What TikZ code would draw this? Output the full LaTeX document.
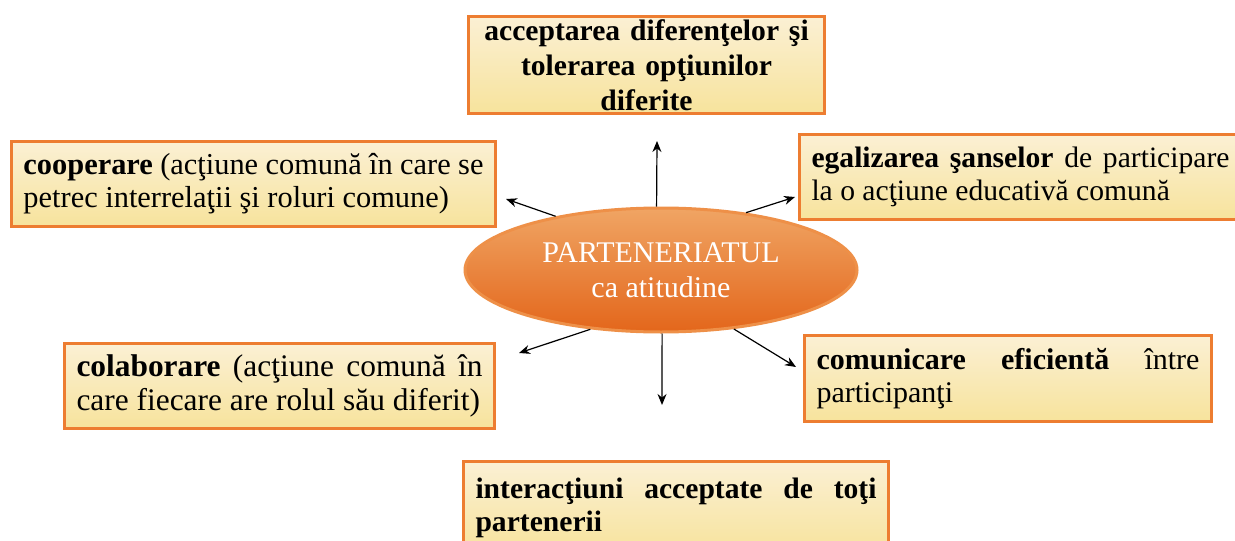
\documentclass[tikz,border=0pt]{standalone}
\usepackage{fontspec}
\setmainfont{Liberation Serif}
\usetikzlibrary{shapes.geometric, arrows.meta, positioning}

\definecolor{boxedge}{HTML}{ED7D31}
\definecolor{boxtop}{HTML}{FBF0D4}
\definecolor{boxbot}{HTML}{F7E39C}
\definecolor{elltop}{HTML}{F0A564}
\definecolor{ellbot}{HTML}{E3661B}
\definecolor{elledge}{HTML}{EE9048}

\begin{document}
\begin{tikzpicture}[x=0.5pt,y=-0.5pt,>={Stealth[length=5.5pt,width=4.5pt]},
    idea/.style={draw=boxedge,line width=1.5pt,top color=boxtop,bottom color=boxbot,
        anchor=north west,inner xsep=6pt,inner ysep=1pt,align=justify,
        font=\fontsize{15}{16.5}\selectfont},
    core/.style={ellipse,draw=elledge,line width=1.5pt,top color=elltop,bottom color=ellbot,
        minimum width=196pt,minimum height=62pt,inner sep=0pt,text=white,align=center,
        font=\fontsize{15}{17.5}\selectfont}]
        % tikz code goes here
        \clip (0,0) rectangle (1235,540);
        \node[core](part) at (661,270) {PARTENERIATUL\\ca atitudine};

        \node[idea,align=center,text width=166pt,minimum height=48.5pt,font=\fontsize{14.8}{17.5}\selectfont](accept) at (467,15)
            {\textbf{acceptarea diferenţelor şi\\tolerarea opţiunilor\\diferite}};
        \node[idea,text width=230pt,minimum height=42.5pt,font=\fontsize{15.2}{16.5}\selectfont](coop) at (10,140)
            {\textbf{cooperare} (acţiune comună în care se\linebreak petrec interrelaţii şi roluri comune)};
        \node[idea,text width=209pt,minimum height=42.5pt,font=\fontsize{14.8}{16.5}\selectfont](egal) at (798,133)
            {\textbf{egalizarea şanselor} de participare\linebreak la o acţiune educativă comună};
        \node[idea,text width=203pt,minimum height=42.5pt,font=\fontsize{15.7}{16.8}\selectfont](colab) at (63,342)
            {\textbf{colaborare} (acţiune comună în\linebreak care fiecare are rolul său diferit)};
        \node[idea,text width=191.5pt,minimum height=43pt](comun) at (803,334)
            {\textbf{comunicare eficientă} între\linebreak participanţi};
        \node[idea,text width=200.5pt,minimum height=46pt,font=\fontsize{14.8}{16.5}\selectfont](inter) at (462,460)
            {\textbf{interacţiuni acceptate de toţi\linebreak partenerii}};

        \coordinate (t_accept) at (657,141);
        \coordinate (t_coop) at (506,199);
        \coordinate (t_egal) at (795,197);
        \coordinate (t_colab) at (519,353);
        \coordinate (t_comun) at (796,367);
        \coordinate (t_inter) at (662,405);

        \path[->,line width=0.6pt]
            (part.94)  edge (t_accept)
            (part.153) edge (t_coop)
            (part.34)  edge (t_egal)
            (part.220) edge (t_colab)
            (part.321) edge (t_comun)
            (part.271) edge (t_inter);
\end{tikzpicture}
\end{document}
